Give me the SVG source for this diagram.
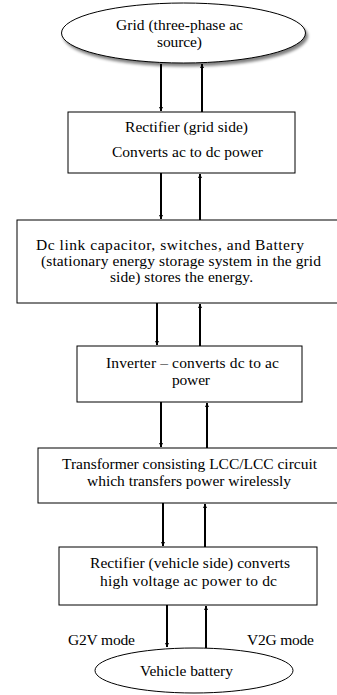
<svg xmlns="http://www.w3.org/2000/svg" width="337" height="695" viewBox="0 0 337 695">
<defs>
<marker id="ah" viewBox="0 0 10 10" refX="10" refY="5" markerWidth="4" markerHeight="4" orient="auto-start-reverse" markerUnits="userSpaceOnUse">
<path d="M0,0 L10,5 L0,10 z" fill="#000"/>
</marker>
<filter id="sh" x="-10%" y="-20%" width="130%" height="150%">
<feGaussianBlur in="SourceAlpha" stdDeviation="1.5"/>
<feOffset dx="2" dy="3" result="b"/>
<feComponentTransfer><feFuncA type="linear" slope="0.5"/></feComponentTransfer>
<feMerge><feMergeNode/><feMergeNode in="SourceGraphic"/></feMerge>
</filter>
</defs>
<style>
.n{fill:#fff;stroke:#000;stroke-width:1}
.t{font-family:"Liberation Serif","Times New Roman","DejaVu Serif",serif;font-size:15.5px;fill:#000;text-anchor:middle}
.c line{stroke:#000;stroke-width:2;marker-end:url(#ah)}
</style>
<rect width="337" height="695" fill="#fff"/>
<g id="grid">
<ellipse class="n" cx="183.5" cy="33" rx="122" ry="30" filter="url(#sh)"/>
<text class="t" x="179.5" y="30" textLength="127">Grid (three-phase ac</text>
<text class="t" x="179.5" y="47" textLength="45">source)</text>
</g>
<g id="rect-grid">
<rect class="n" x="68" y="112" width="227" height="61"/>
<text class="t" x="186.5" y="132" textLength="123">Rectifier (grid side)</text>
<text class="t" x="187.5" y="157" textLength="151">Converts ac to dc power</text>
</g>
<g id="dclink">
<rect class="n" x="17" y="220" width="330" height="83"/>
<text class="t" x="170" y="250" textLength="268">Dc link capacitor, switches, and Battery</text>
<text class="t" x="181" y="266" textLength="280">(stationary energy storage system in the grid</text>
<text class="t" x="181.5" y="282" textLength="143">side) stores the energy.</text>
</g>
<g id="inverter">
<rect class="n" x="77" y="346" width="225" height="56"/>
<text class="t" x="192.5" y="368" textLength="173">Inverter – converts dc to ac</text>
<text class="t" x="191" y="385" textLength="38">power</text>
</g>
<g id="transformer">
<rect class="n" x="38" y="448" width="310" height="55"/>
<text class="t" x="189.5" y="469" textLength="255">Transformer consisting LCC/LCC circuit</text>
<text class="t" x="189" y="486" textLength="204">which transfers power wirelessly</text>
</g>
<g id="rect-vehicle">
<rect class="n" x="59" y="547" width="258" height="58"/>
<text class="t" x="190" y="568" textLength="200">Rectifier (vehicle side) converts</text>
<text class="t" x="188.5" y="586" textLength="177">high voltage ac power to dc</text>
</g>
<g id="battery">
<ellipse class="n" cx="194" cy="670.5" rx="99" ry="22.5"/>
<text class="t" x="186.5" y="676" textLength="93">Vehicle battery</text>
</g>
<g id="labels">
<text class="t" x="101.5" y="645" textLength="67">G2V mode</text>
<text class="t" x="280.5" y="645" textLength="67">V2G mode</text>
</g>
<g class="c" id="connectors">
<line x1="161" y1="64" x2="161" y2="111"/>
<line x1="202" y1="112" x2="202" y2="64"/>
<line x1="161" y1="173" x2="161" y2="219"/>
<line x1="200" y1="220" x2="200" y2="174"/>
<line x1="157" y1="303" x2="157" y2="345"/>
<line x1="200" y1="346" x2="200" y2="304"/>
<line x1="161" y1="402" x2="161" y2="447"/>
<line x1="207" y1="448" x2="207" y2="403"/>
<line x1="163" y1="503" x2="163" y2="546"/>
<line x1="205" y1="547" x2="205" y2="504"/>
<line x1="167" y1="605" x2="167" y2="647"/>
<line x1="206" y1="648" x2="206" y2="606"/>
</g>
</svg>
